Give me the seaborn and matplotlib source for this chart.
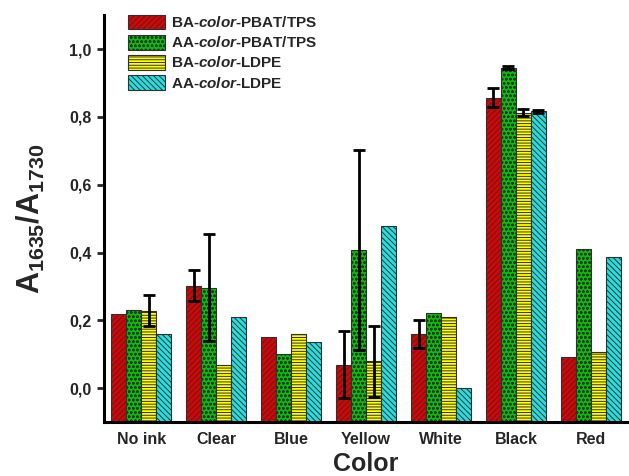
import numpy as np
import pandas as pd
import matplotlib
matplotlib.use("Agg")
import matplotlib.pyplot as plt
import seaborn as sns

# data
colors_ink = ["No ink", "Clear", "Blue", "Yellow", "White", "Black", "Red"]
series = ["BA-$\\mathit{color}$-PBAT/TPS", "AA-$\\mathit{color}$-PBAT/TPS",
          "BA-$\\mathit{color}$-LDPE", "AA-$\\mathit{color}$-LDPE"]
ba_pbat = [0.219, 0.303, 0.150, 0.070, 0.160, 0.857, 0.091]
aa_pbat = [0.231, 0.297, 0.101, 0.408, 0.221, 0.945, 0.411]
ba_ldpe = [0.229, 0.068, 0.160, 0.080, 0.210, 0.813, 0.106]
aa_ldpe = [0.160, 0.211, 0.137, 0.479, 0.000, 0.817, 0.386]
err_ba_pbat = [0.0, 0.045, 0.0, 0.100, 0.040, 0.028, 0.0]
err_aa_pbat = [0.0, 0.158, 0.0, 0.295, 0.0, 0.004, 0.0]
err_ba_ldpe = [0.046, 0.0, 0.0, 0.105, 0.0, 0.010, 0.0]
err_aa_ldpe = [0.0, 0.0, 0.0, 0.0, 0.0, 0.004, 0.0]
baseline = -0.1

bar_colors = ["#e00000", "#00c400", "#ffff00", "#22e0e0"]
hatches = ["//////", "oooo", "------", "\\\\\\\\\\\\"]

sns.set_style("white")
plt.rcParams["font.family"] = ["Liberation Sans", "DejaVu Sans"]
plt.rcParams["font.weight"] = "bold"
plt.rcParams["mathtext.fontset"] = "custom"
plt.rcParams["mathtext.rm"] = "Liberation Sans:bold"
plt.rcParams["mathtext.it"] = "Liberation Sans:italic:bold"
plt.rcParams["mathtext.bf"] = "Liberation Sans:bold"
plt.rcParams["hatch.linewidth"] = 0.7

values = [ba_pbat, aa_pbat, ba_ldpe, aa_ldpe]
errors = [err_ba_pbat, err_aa_pbat, err_ba_ldpe, err_aa_ldpe]
df = pd.DataFrame({
    "Color": colors_ink * 4,
    "series": np.repeat(series, len(colors_ink)),
    "value": np.concatenate(values),
})

fig = plt.figure(figsize=(6.29, 4.76), dpi=100)
ax = fig.add_axes([0.165, 0.113, 0.834, 0.855])

sns.barplot(data=df, x="Color", y="value", hue="series", hue_order=series,
            palette=bar_colors, errorbar=None, width=0.8, ax=ax,
            edgecolor="#303030", linewidth=0.8, saturation=1)

# bars in the original rise from the bottom of the axis, not from zero
for cont, h, err in zip(ax.containers, hatches, errors):
    xs, ys, es = [], [], []
    for bar, e in zip(cont, err):
        top = bar.get_height()
        bar.set_y(baseline)
        bar.set_height(top - baseline)
        bar.set_hatch(h)
        if e > 0:
            xs.append(bar.get_x() + bar.get_width() / 2)
            ys.append(top)
            es.append(e)
    ax.errorbar(xs, ys, yerr=es, fmt="none", ecolor="black", elinewidth=2,
                capsize=4, capthick=2, zorder=5)

ax.set_xlim(-0.5, 6.5)
ax.set_ylim(baseline, 1.1)
ax.set_yticks([0.0, 0.2, 0.4, 0.6, 0.8, 1.0])
ax.set_yticklabels(["0,0", "0,2", "0,4", "0,6", "0,8", "1,0"])
sns.despine(ax=ax)
for s in ["left", "bottom"]:
    ax.spines[s].set_linewidth(2.2)
    ax.spines[s].set_color("black")
ax.tick_params(axis="y", direction="out", length=5, width=2, labelsize=11.5,
               left=True, pad=4)
ax.tick_params(axis="x", length=0, labelsize=11.5, pad=7)
for lab in ax.get_xticklabels() + ax.get_yticklabels():
    lab.set_fontweight("bold")

ax.set_xlabel("Color", fontsize=18, fontweight="bold", labelpad=4)
ax.set_ylabel("A$_{1635}$/A$_{1730}$", fontsize=22, fontweight="bold", labelpad=16)

handles, labels = ax.get_legend_handles_labels()
for hd, h in zip(handles, hatches):
    hd.set_hatch(h)
ax.legend(handles, labels, loc="upper left", bbox_to_anchor=(0.02, 1.035),
          frameon=False, fontsize=11, handlelength=2.4, handleheight=1.1,
          labelspacing=0.3, handletextpad=0.4)

fig.savefig("out.png", dpi=100)
